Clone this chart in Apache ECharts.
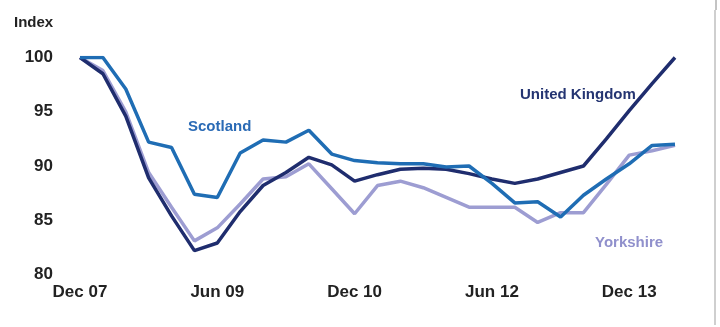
<!DOCTYPE html>
<html>
<head>
<meta charset="utf-8">
<script src="https://cdn.jsdelivr.net/npm/echarts@6/dist/echarts.min.js"></script>
<style>
html,body{margin:0;padding:0;background:#fff;}
#chart{width:720px;height:327px;}
</style>
</head>
<body>
<div id="chart"></div>
<script>
const categories = ['Dec 07','Mar 08','Jun 08','Sep 08','Dec 08','Mar 09','Jun 09','Sep 09','Dec 09','Mar 10','Jun 10','Sep 10','Dec 10','Mar 11','Jun 11','Sep 11','Dec 11','Mar 12','Jun 12','Sep 12','Dec 12','Mar 13','Jun 13','Sep 13','Dec 13','Mar 14','Jun 14'];
const scotland = [100, 100, 97.1, 92.2, 91.7, 87.4, 87.1, 91.2, 92.4, 92.2, 93.3, 91.1, 90.5, 90.3, 90.2, 90.2, 89.9, 90.0, 88.4, 86.6, 86.7, 85.3, 87.3, 88.8, 90.2, 91.9, 92.0];
const unitedKingdom = [100, 98.5, 94.6, 88.9, 85.4, 82.2, 82.9, 85.8, 88.2, 89.4, 90.8, 90.1, 88.6, 89.2, 89.7, 89.8, 89.7, 89.3, 88.8, 88.4, 88.8, 89.4, 90.0, 92.5, 95.1, 97.6, 100];
const yorkshire = [100, 98.8, 95.0, 89.4, 86.2, 83.1, 84.3, 86.5, 88.8, 89.0, 90.2, 87.9, 85.6, 88.2, 88.6, 88.0, 87.1, 86.2, 86.2, 86.2, 84.8, 85.7, 85.7, 88.3, 91.0, 91.4, 91.9];
const yTicks = [80, 85, 90, 95, 100];

const chart = echarts.init(document.getElementById('chart'), null, {renderer: 'canvas'});
const font = 'Arial, "Liberation Sans", sans-serif';
chart.setOption({
  animation: false,
  backgroundColor: '#fff',
  grid: {left: 80, right: 45, top: 57.5, bottom: 52.5},
  xAxis: {
    type: 'category',
    data: categories,
    boundaryGap: false,
    axisLine: {show: false},
    axisTick: {show: false},
    splitLine: {show: false},
    axisLabel: {interval: 5, margin: 9, color: '#222', fontSize: 17, fontWeight: 'bold', fontFamily: font}
  },
  yAxis: {
    type: 'value',
    min: yTicks[0],
    max: yTicks[yTicks.length - 1],
    interval: 5,
    axisLine: {show: false},
    axisTick: {show: false},
    splitLine: {show: false},
    axisLabel: {margin: 27, color: '#222', fontSize: 17, fontWeight: 'bold', fontFamily: font}
  },
  series: [
    {name: 'Yorkshire', type: 'line', data: yorkshire, symbol: 'none', lineStyle: {color: '#9d9dd2', width: 3.5}, z: 2},
    {name: 'United Kingdom', type: 'line', data: unitedKingdom, symbol: 'none', lineStyle: {color: '#1f2d6e', width: 3.5}, z: 3},
    {name: 'Scotland', type: 'line', data: scotland, symbol: 'none', lineStyle: {color: '#1f6db4', width: 3.5}, z: 4}
  ],
  graphic: [
    {type: 'text', left: 14, top: 15, style: {text: 'Index', fill: '#222', font: 'bold 15px ' + font}},
    {type: 'text', left: 188, top: 119, style: {text: 'Scotland', fill: '#2a6ab5', font: 'bold 15px ' + font}},
    {type: 'text', left: 520, top: 87, style: {text: 'United Kingdom', fill: '#253572', font: 'bold 15px ' + font}},
    {type: 'text', left: 595, top: 235, style: {text: 'Yorkshire', fill: '#9090cc', font: 'bold 15px ' + font}},
    {type: 'line', shape: {x1: 715, y1: 10, x2: 715, y2: 325}, style: {stroke: '#cfcfcf', lineWidth: 2}},
    {type: 'line', shape: {x1: 716, y1: 0, x2: 716, y2: 10}, style: {stroke: '#888', lineWidth: 1}}
  ]
});
</script>
</body>
</html>
